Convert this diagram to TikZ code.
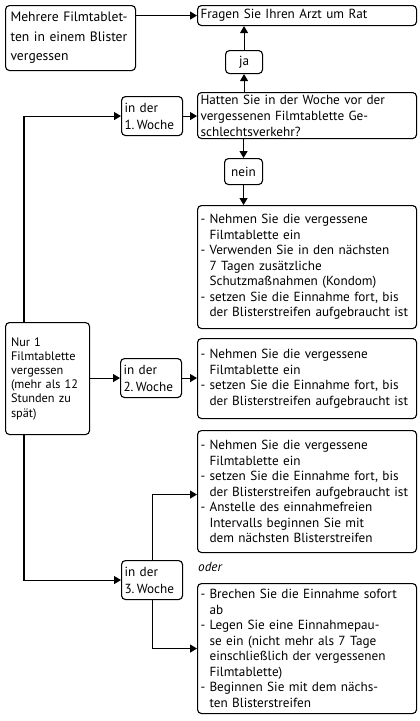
\documentclass[tikz,border=0pt]{standalone}
\usepackage{fontspec}
\setmainfont{PT Sans}
\usetikzlibrary{arrows.meta}
\hyphenpenalty=10000
\exhyphenpenalty=10000
\newcommand\Li{\makebox[9pt][l]{-}}
\newcommand\Lc{\makebox[9pt][l]{}}
\begin{document}
\begin{tikzpicture}[x=1pt,y=-1pt,
  box/.style={draw, line width=1.1pt, rounded corners=4pt, anchor=north west,
    align=left, inner xsep=3pt, inner ysep=0pt, font=\fontsize{13.2}{15.5}\selectfont},
  conn/.style={line width=1.1pt},
  arr/.style={conn, -{Triangle[length=7pt,width=8pt]}}]
\useasboundingbox (0,0) rectangle (420,721);

\node[box, minimum width=130pt, minimum height=65pt, text width=120pt, inner xsep=5pt,
  font=\fontsize{13.6}{19.5}\selectfont] (A) at (5,5)
  {Mehrere Filmtablet-\\ten in einem Blister\\vergessen};
\node[box, minimum width=219pt, minimum height=20pt, text width=213pt] (B) at (197,5)
  {Fragen Sie Ihren Arzt um Rat};
\node[box, minimum width=37pt, minimum height=23pt, align=center, text width=31pt] (ja) at (225,50) {ja};
\node[box, minimum width=61pt, minimum height=39pt, text width=55pt,
  font=\fontsize{13.2}{17}\selectfont] (W1) at (121,96) {in der\\1.\,Woche};
\node[box, minimum width=219pt, minimum height=46pt, text width=213pt,
  font=\fontsize{13.2}{16}\selectfont] (H) at (197,92)
  {Hatten Sie in der Woche vor der\\vergessenen Filmtablette Ge-\\schlechtsverkehr?};
\node[box, minimum width=38pt, minimum height=26pt, align=center, text width=32pt] (nein) at (224,158) {nein};
\node[box, minimum width=219pt, minimum height=123pt, text width=213pt] (C) at (197,205)
  {\Li Nehmen Sie die vergessene\\\Lc Filmtablette ein\\\Li Verwenden Sie in den nächsten\\\Lc 7 Tagen zusätzliche\\\Lc Schutzmaßnahmen (Kondom)\\\Li setzen Sie die Einnahme fort, bis\\\Lc der Blisterstreifen aufgebraucht ist};
\node[box, minimum width=84pt, minimum height=112pt, text width=73pt, inner xsep=5.5pt,
  font=\fontsize{12.3}{14.2}\selectfont] (N1) at (5,322)
  {Nur 1\\Filmtablette\\vergessen\\(mehr als 12\\Stunden zu\\spät)};
\node[box, minimum width=61pt, minimum height=39pt, text width=55pt,
  font=\fontsize{13.2}{17}\selectfont] (W2) at (120,358) {in der\\2.\,Woche};
\node[box, minimum width=219pt, minimum height=80pt, text width=213pt] (D) at (197,338)
  {\Li Nehmen Sie die vergessene\\\Lc Filmtablette ein\\\Li setzen Sie die Einnahme fort, bis\\\Lc der Blisterstreifen aufgebraucht ist};
\node[box, minimum width=219pt, minimum height=122pt, text width=213pt] (E) at (197,430)
  {\Li Nehmen Sie die vergessene\\\Lc Filmtablette ein\\\Li setzen Sie die Einnahme fort, bis\\\Lc der Blisterstreifen aufgebraucht ist\\\Li Anstelle des einnahmefreien\\\Lc Intervalls beginnen Sie mit\\\Lc dem nächsten Blisterstreifen};
\node[box, minimum width=61pt, minimum height=39pt, text width=55pt,
  font=\fontsize{13.2}{17}\selectfont] (W3) at (121,560) {in der\\3.\,Woche};
\node[anchor=west, inner sep=0pt, font=\fontsize{13.2}{15}\selectfont\itshape] (oder) at (198,567) {oder};
\node[box, minimum width=219pt, minimum height=130pt, text width=213pt] (F) at (197,583)
  {\Li Brechen Sie die Einnahme sofort\\\Lc ab\\\Li Legen Sie eine Einnahmepau-\\\Lc se ein (nicht mehr als 7 Tage\\\Lc einschließlich der vergessenen\\\Lc Filmtablette)\\\Li Beginnen Sie mit dem nächs-\\\Lc ten Blisterstreifen};

\draw[arr] (A.east |- B.west) -- (B.west);
\draw[arr] (ja.south |- H.north) -- (ja.south);
\draw[arr] (ja.north) -- (ja.north |- B.south);
\draw[arr] (nein.north |- H.south) -- (nein.north);
\draw[arr] (nein.south) -- (nein.south |- C.north);
\draw[arr] (W1.east) -- (W1.east -| H.west);
\coordinate (n1t) at ([xshift=19pt]N1.north west);
\coordinate (n1b) at ([xshift=19pt]N1.south west);
\draw[arr] (n1t) |- (W1.west);
\draw[arr] (N1.east |- W2.west) -- (W2.west);
\draw[arr] (W2.east) -- (W2.east -| D.west);
\draw[arr] (n1b) |- (W3.west);
\draw[arr] (W3.north) |- ([yshift=-3pt]E.west);
\draw[arr] (W3.south) |- (F.west);
\end{tikzpicture}
\end{document}
